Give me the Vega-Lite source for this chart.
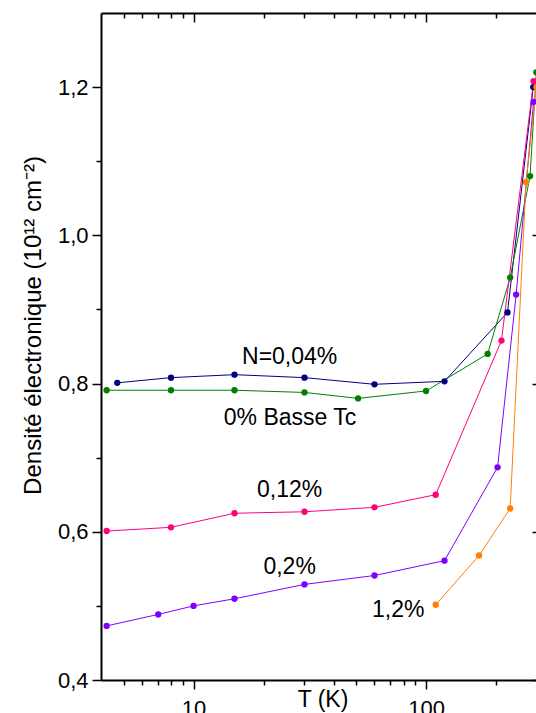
{
  "$schema": "https://vega.github.io/schema/vega-lite/v6.json",
  "width": 435,
  "height": 667,
  "autosize": {"type": "none"},
  "padding": {"left": 101, "top": 13, "right": 0, "bottom": 33},
  "background": "white",
  "config": {
    "view": {"stroke": null},
    "axis": {
      "grid": false,
      "domainColor": "black",
      "tickColor": "black",
      "labelColor": "black",
      "titleColor": "black",
      "domainWidth": 2,
      "tickWidth": 1.5,
      "labelFont": "Liberation Sans",
      "titleFont": "Liberation Sans",
      "titleFontWeight": "normal",
      "labelFlush": false,
      "labelOverlap": false,
      "labelBound": false
    }
  },
  "datasets": {
    "series": [
      {"s": "N=0,04%", "T": 4.7, "n": 0.801},
      {"s": "N=0,04%", "T": 8, "n": 0.808},
      {"s": "N=0,04%", "T": 15, "n": 0.812},
      {"s": "N=0,04%", "T": 30, "n": 0.808},
      {"s": "N=0,04%", "T": 60, "n": 0.799},
      {"s": "N=0,04%", "T": 120, "n": 0.803},
      {"s": "N=0,04%", "T": 224, "n": 0.896},
      {"s": "N=0,04%", "T": 289, "n": 1.2},
      {"s": "0%", "T": 4.23, "n": 0.791},
      {"s": "0%", "T": 8, "n": 0.791},
      {"s": "0%", "T": 15, "n": 0.791},
      {"s": "0%", "T": 30, "n": 0.788},
      {"s": "0%", "T": 51, "n": 0.78},
      {"s": "0%", "T": 100, "n": 0.79},
      {"s": "0%", "T": 184, "n": 0.84},
      {"s": "0%", "T": 230, "n": 0.943},
      {"s": "0%", "T": 280, "n": 1.08},
      {"s": "0%", "T": 298, "n": 1.22},
      {"s": "0,12%", "T": 4.23, "n": 0.601},
      {"s": "0,12%", "T": 8, "n": 0.606},
      {"s": "0,12%", "T": 15, "n": 0.625},
      {"s": "0,12%", "T": 30, "n": 0.627},
      {"s": "0,12%", "T": 60, "n": 0.633},
      {"s": "0,12%", "T": 110, "n": 0.65},
      {"s": "0,12%", "T": 211, "n": 0.858},
      {"s": "0,12%", "T": 290, "n": 1.208},
      {"s": "0,2%", "T": 4.23, "n": 0.473},
      {"s": "0,2%", "T": 7.05, "n": 0.4885},
      {"s": "0,2%", "T": 10, "n": 0.5},
      {"s": "0,2%", "T": 15, "n": 0.5096},
      {"s": "0,2%", "T": 30, "n": 0.529},
      {"s": "0,2%", "T": 60, "n": 0.541},
      {"s": "0,2%", "T": 120, "n": 0.561},
      {"s": "0,2%", "T": 203, "n": 0.687},
      {"s": "0,2%", "T": 244, "n": 0.92},
      {"s": "0,2%", "T": 290, "n": 1.18},
      {"s": "1,2%", "T": 110, "n": 0.5015},
      {"s": "1,2%", "T": 169, "n": 0.568},
      {"s": "1,2%", "T": 230, "n": 0.6314},
      {"s": "1,2%", "T": 269, "n": 1.0716},
      {"s": "1,2%", "T": 298, "n": 1.2}
    ],
    "labels": [
      {"label": "N=0,04%", "T": 25.9, "n": 0.826},
      {"label": "0% Basse Tc", "T": 26.0, "n": 0.744},
      {"label": "0,12%", "T": 25.9, "n": 0.6473},
      {"label": "0,2%", "T": 25.9, "n": 0.543},
      {"label": "1,2%", "T": 75.9, "n": 0.4854}
    ]
  },
  "layer": [
    {
      "data": {"name": "series"},
      "mark": {"type": "line", "strokeWidth": 1, "clip": true},
      "encoding": {
        "x": {
          "field": "T", "type": "quantitative",
          "scale": {"type": "log", "domain": [4, 297], "nice": false},
          "axis": {
            "orient": "bottom", "values": [10, 100], "format": "d",
            "tickSize": 9, "labelPadding": 9, "labelFontSize": 22,
            "title": "T (K)", "titleFontSize": 23, "titleX": 221.5, "titleY": 26,
            "titleBaseline": "alphabetic", "titleAlign": "center"
          }
        },
        "y": {
          "field": "n", "type": "quantitative",
          "scale": {"domain": [0.4, 1.3], "nice": false, "zero": false},
          "axis": {
            "orient": "left", "values": [0.4, 0.6, 0.8, 1.0, 1.2],
            "labelExpr": "replace(format(datum.value, '.1f'), '.', ',')",
            "tickSize": 9, "labelPadding": 4, "labelFontSize": 22,
            "title": "Densité électronique (10¹² cm⁻²)", "titleFontSize": 24,
            "titleX": -61, "titleY": 312, "titleAngle": -90,
            "titleBaseline": "alphabetic", "titleAlign": "center"
          }
        },
        "color": {
          "field": "s", "type": "nominal", "legend": null,
          "scale": {"domain": ["0%", "N=0,04%", "0,12%", "0,2%", "1,2%"], "range": ["#008000", "#000080", "#FF0080", "#8000FF", "#FF8000"]}
        }
      }
    },
    {
      "data": {"name": "series"},
      "mark": {"type": "point", "filled": true, "size": 40, "opacity": 1, "clip": true},
      "encoding": {
        "x": {"field": "T", "type": "quantitative", "scale": {"type": "log", "domain": [4, 297], "nice": false}, "axis": null},
        "y": {"field": "n", "type": "quantitative", "scale": {"domain": [0.4, 1.3], "nice": false, "zero": false}, "axis": null},
        "color": {
          "field": "s", "type": "nominal", "legend": null,
          "scale": {"domain": ["0%", "N=0,04%", "0,12%", "0,2%", "1,2%"], "range": ["#008000", "#000080", "#FF0080", "#8000FF", "#FF8000"]}
        }
      }
    },
    {
      "data": {"name": "series"},
      "mark": {"type": "point", "opacity": 0, "clip": true},
      "encoding": {
        "x": {
          "field": "T", "type": "quantitative",
          "scale": {"type": "log", "domain": [4, 297], "nice": false},
          "axis": {"orient": "bottom", "values": [5, 6, 7, 8, 9, 20, 30, 40, 50, 60, 70, 80, 90, 200], "tickSize": 5, "labels": false, "domain": false, "title": null}
        },
        "y": {
          "field": "n", "type": "quantitative",
          "scale": {"domain": [0.4, 1.3], "nice": false, "zero": false},
          "axis": {"orient": "left", "values": [0.5, 0.7, 0.9, 1.1], "tickSize": 5, "labels": false, "domain": false, "title": null}
        }
      }
    },
    {
      "data": {"name": "series"},
      "mark": {"type": "point", "opacity": 0, "clip": true},
      "encoding": {
        "x": {
          "field": "T", "type": "quantitative",
          "scale": {"type": "log", "domain": [4, 297], "nice": false},
          "axis": {"orient": "top", "values": [10, 100], "tickSize": -9, "labels": false, "domain": true, "title": null}
        },
        "y": {
          "field": "n", "type": "quantitative",
          "scale": {"domain": [0.4, 1.3], "nice": false, "zero": false},
          "axis": {"orient": "right", "values": [0.4, 0.6, 0.8, 1.0, 1.2], "tickSize": -4, "labels": false, "domain": false, "title": null}
        }
      }
    },
    {
      "data": {"name": "series"},
      "mark": {"type": "point", "opacity": 0, "clip": true},
      "encoding": {
        "x": {
          "field": "T", "type": "quantitative",
          "scale": {"type": "log", "domain": [4, 297], "nice": false},
          "axis": {"orient": "top", "values": [5, 6, 7, 8, 9, 20, 30, 40, 50, 60, 70, 80, 90, 200], "tickSize": -5, "labels": false, "domain": false, "title": null}
        },
        "y": {"field": "n", "type": "quantitative", "scale": {"domain": [0.4, 1.3], "nice": false, "zero": false}, "axis": null}
      }
    },
    {
      "data": {"name": "labels"},
      "mark": {"type": "text", "font": "Liberation Sans", "fontSize": 23, "align": "center", "baseline": "alphabetic", "color": "black"},
      "encoding": {
        "x": {"field": "T", "type": "quantitative", "scale": {"type": "log", "domain": [4, 297], "nice": false}, "axis": null},
        "y": {"field": "n", "type": "quantitative", "scale": {"domain": [0.4, 1.3], "nice": false, "zero": false}, "axis": null},
        "text": {"field": "label"}
      }
    }
  ],
  "resolve": {"axis": {"x": "independent", "y": "independent"}}
}
